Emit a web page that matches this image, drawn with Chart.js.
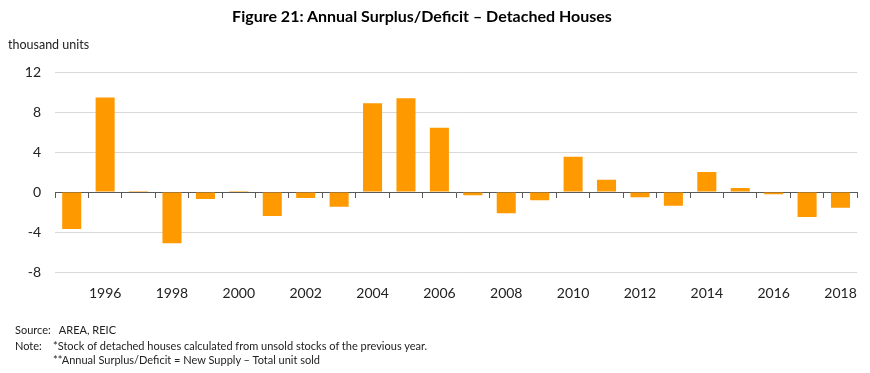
<!DOCTYPE html>
<html>
<head>
<meta charset="utf-8">
<script src="https://cdn.jsdelivr.net/npm/chart.js@4.4.1/dist/chart.umd.min.js"></script>
<style>
  html, body { margin: 0; padding: 0; background: #fff; }
  #wrap { position: relative; width: 870px; height: 373px; overflow: hidden; font-family: Lato, "Open Sans", sans-serif; color: #000; }
  #chart { position: absolute; left: 0; top: 0; }
  .t { position: absolute; white-space: nowrap; }
  #title { left: 0; width: 844px; top: 6px; text-align: center; font-weight: bold; font-size: 16px; }
  #unit { left: 8px; top: 37px; font-size: 12.5px; color: #222; }
  .foot { font-size: 11px; color: #222; }
</style>
</head>
<body>
<div id="wrap">
  <canvas id="chart" width="870" height="373"></canvas>
  <div class="t" id="title">Figure 21: Annual Surplus/Deficit – Detached Houses</div>
  <div class="t" id="unit">thousand units</div>
  <div class="t foot" style="left:15px; top:323px;">Source:&nbsp;&nbsp; AREA, REIC</div>
  <div class="t foot" style="left:15px; top:339px;">Note:</div>
  <div class="t foot" style="left:53px; top:339px;">*Stock of detached houses calculated from unsold stocks of the previous year.</div>
  <div class="t foot" style="left:53px; top:353px;">**Annual Surplus/Deficit = New Supply – Total unit sold</div>
</div>
<script>
const years = ["1995","1996","1997","1998","1999","2000","2001","2002","2003","2004","2005","2006",
               "2007","2008","2009","2010","2011","2012","2013","2014","2015","2016","2017","2018"];
const surplusDeficit = [-3.7, 9.45, 0.1, -5.13, -0.7, 0.1, -2.4, -0.6, -1.47, 8.87, 9.37, 6.43,
                        -0.33, -2.13, -0.83, 3.53, 1.23, -0.53, -1.37, 2.0, 0.4, -0.23, -2.5, -1.57];
const yTicks = [-8, -4, 0, 4, 8, 12];
const shownYearLabels = ["1996","1998","2000","2002","2004","2006","2008","2010","2012","2014","2016","2018"];

new Chart(document.getElementById('chart'), {
  type: 'bar',
  data: {
    labels: years,
    datasets: [{
      data: surplusDeficit,
      backgroundColor: '#FF9900',
      borderWidth: 0,
      barPercentage: 0.57,
      categoryPercentage: 1.0
    }]
  },
  options: {
    responsive: false,
    animation: false,
    events: [],
    layout: { padding: { left: 0, right: 12, top: 72, bottom: 0 } },
    plugins: { legend: { display: false }, tooltip: { enabled: false }, title: { display: false } },
    scales: {
      x: {
        type: 'category',
        position: 'bottom',
        grid: { display: false, drawTicks: false },
        border: { display: false },
        afterFit: s => { s.height = 101; },
        ticks: {
          autoSkip: false,
          maxRotation: 0,
          padding: 13,
          color: '#222',
          font: { family: 'Lato', size: 14 },
          callback: function(v) {
            const l = this.getLabelForValue(v);
            return shownYearLabels.includes(l) ? l : '';
          }
        }
      },
      x2: {
        type: 'category',
        labels: years,
        position: { y: 0 },
        grid: { offset: true, drawOnChartArea: false, drawTicks: true, tickLength: 5, color: '#595959', lineWidth: 1 },
        border: { display: true, color: '#595959', width: 1 },
        ticks: { display: false }
      },
      y: {
        min: -8,
        max: 12,
        afterFit: s => { s.width = 55; },
        afterBuildTicks: s => { s.ticks = yTicks.map(v => ({ value: v })); },
        grid: { color: '#D9D9D9', lineWidth: 1, drawTicks: false },
        border: { display: false },
        ticks: {
          padding: 14,
          color: '#222',
          font: { family: 'Lato', size: 14 }
        }
      }
    }
  }
});
</script>
</body>
</html>
